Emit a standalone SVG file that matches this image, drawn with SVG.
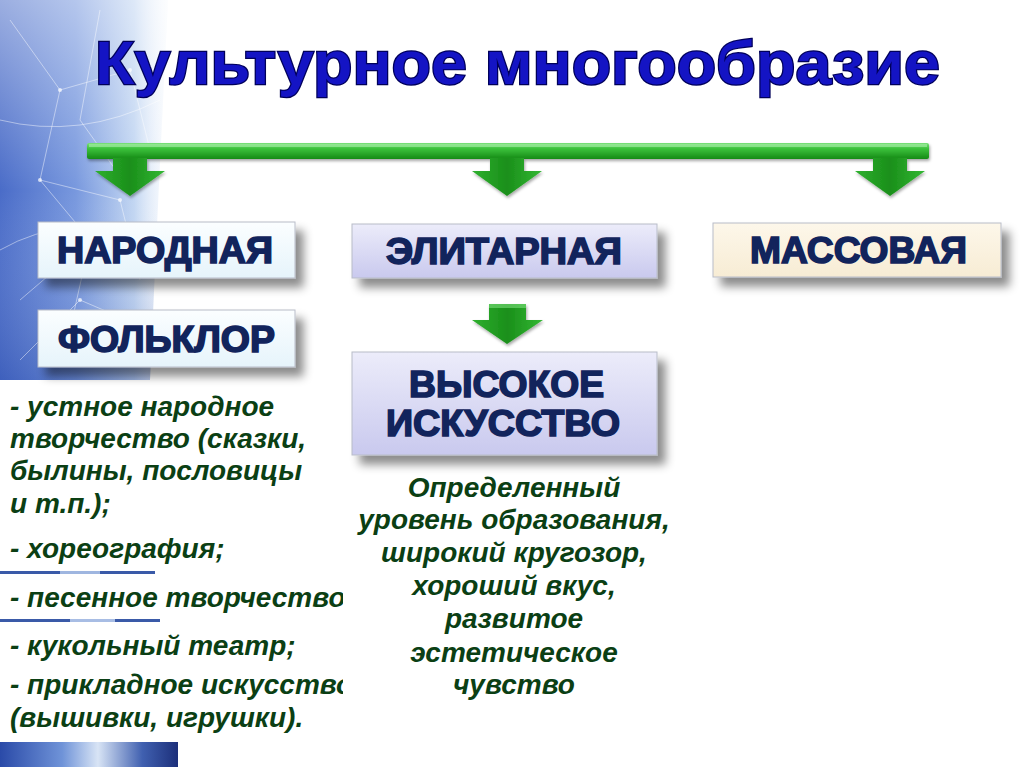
<svg xmlns="http://www.w3.org/2000/svg" width="1024" height="767" viewBox="0 0 1024 767">
<defs>
  <linearGradient id="panel" x1="0" y1="0" x2="1" y2="0">
    <stop offset="0" stop-color="#4a6cc8"/>
    <stop offset="0.45" stop-color="#7898de"/>
    <stop offset="0.8" stop-color="#c2d6f2"/>
    <stop offset="1" stop-color="#eef4fc" stop-opacity="0.3"/>
  </linearGradient>
  <linearGradient id="panelV" x1="0" y1="0" x2="0" y2="1">
    <stop offset="0" stop-color="#ffffff" stop-opacity="0.45"/>
    <stop offset="0.5" stop-color="#ffffff" stop-opacity="0"/>
    <stop offset="1" stop-color="#1a3a9a" stop-opacity="0.25"/>
  </linearGradient>
  <linearGradient id="bar" x1="0" y1="0" x2="0" y2="1">
    <stop offset="0" stop-color="#7be07b"/>
    <stop offset="0.35" stop-color="#3cc23c"/>
    <stop offset="1" stop-color="#158a15"/>
  </linearGradient>
  <linearGradient id="arr" x1="0" y1="0" x2="1" y2="0">
    <stop offset="0" stop-color="#2fb02f"/>
    <stop offset="0.5" stop-color="#1a8f1a"/>
    <stop offset="1" stop-color="#34b834"/>
  </linearGradient>
  <linearGradient id="light" x1="0" y1="0" x2="0" y2="1">
    <stop offset="0" stop-color="#fbfeff"/>
    <stop offset="1" stop-color="#e6f4fb"/>
  </linearGradient>
  <linearGradient id="lav" x1="0" y1="0" x2="0" y2="1">
    <stop offset="0" stop-color="#ececfa"/>
    <stop offset="1" stop-color="#c9c9ee"/>
  </linearGradient>
  <linearGradient id="cream" x1="0" y1="0" x2="0" y2="1">
    <stop offset="0" stop-color="#fdf7ea"/>
    <stop offset="1" stop-color="#f7ecd4"/>
  </linearGradient>
  <linearGradient id="bld" x1="0" y1="0" x2="1" y2="0">
    <stop offset="0" stop-color="#2a4aa8"/>
    <stop offset="0.35" stop-color="#6f93d8"/>
    <stop offset="0.55" stop-color="#d8e4f5"/>
    <stop offset="0.8" stop-color="#4060b0"/>
    <stop offset="1" stop-color="#1c2f7a"/>
  </linearGradient>
  <filter id="sh" x="-10%" y="-20%" width="130%" height="160%">
    <feDropShadow dx="8" dy="9" stdDeviation="5" flood-color="#000" flood-opacity="0.45"/>
  </filter>
  <filter id="ash" x="-20%" y="-20%" width="140%" height="160%">
    <feDropShadow dx="1" dy="2" stdDeviation="1.5" flood-color="#000" flood-opacity="0.35"/>
  </filter>
  <clipPath id="leftclip"><rect x="0" y="380" width="343" height="370"/></clipPath>
</defs>
<style>
  .title{font-family:"Liberation Sans",Arial,sans-serif;font-weight:bold;font-size:62px;fill:#1414c4;stroke:#00005a;stroke-width:2.4;paint-order:stroke}
  .lbl{font-family:"Liberation Sans",Arial,sans-serif;font-weight:bold;font-size:36px;fill:#12245c;stroke:#12245c;stroke-width:1.6}
  .box{stroke:#b8bcc8;stroke-width:1}
  .txt{font-family:"Liberation Sans",Arial,sans-serif;font-weight:bold;font-style:italic;font-size:28px;fill:#0b3f14}
  .net{stroke:#ffffff;stroke-opacity:0.45;stroke-width:1;fill:none}
</style>

<!-- background -->
<rect x="0" y="0" width="1024" height="767" fill="#ffffff"/>
<g id="background">
  <path d="M0 0 L168 0 Q158 200 150 380 L0 380 Z" fill="url(#panel)"/>
  <path d="M0 0 L168 0 Q158 200 150 380 L0 380 Z" fill="url(#panelV)"/>
  <path class="net" d="M10 20 L60 90 L40 180 L90 240 L70 330 M60 90 L130 70 L150 150 M40 180 L120 200 L140 280 M90 240 L20 300 M0 120 Q80 140 160 100 M0 250 Q70 210 150 240 M100 10 L80 120 L130 190 M20 360 L80 300 L150 330"/>
  <g fill="#ffffff" fill-opacity="0.7">
    <circle cx="60" cy="90" r="2"/><circle cx="40" cy="180" r="2"/><circle cx="90" cy="240" r="2"/>
    <circle cx="130" cy="70" r="2"/><circle cx="120" cy="200" r="2"/><circle cx="80" cy="300" r="2"/>
  </g>
  <rect x="0" y="742" width="178" height="25" fill="url(#bld)"/>
  <rect x="0" y="571" width="155" height="3" fill="#3a5aa8"/>
  <rect x="60" y="571" width="40" height="3" fill="#9fb6e0"/>
  <rect x="0" y="619" width="160" height="3" fill="#3a5aa8"/>
  <rect x="70" y="619" width="45" height="3" fill="#a8bde4"/>
</g>

<g id="title">
  <text class="title" x="95" y="84" textLength="845" lengthAdjust="spacingAndGlyphs">Культурное многообразие</text>
</g>

<g id="connectors">
  <g filter="url(#ash)">
    <rect x="87" y="143" width="842" height="16" rx="2" fill="url(#bar)"/>
    <rect x="89" y="144" width="838" height="3" fill="#a8f0a8" opacity="0.6"/>
    <path d="M113 158 L147 158 L147 171 L165 171 L130 196 L95 171 L113 171 Z" fill="url(#arr)"/>
    <path d="M490 158 L524 158 L524 171 L542 171 L507 196 L472 171 L490 171 Z" fill="url(#arr)"/>
    <path d="M873 158 L907 158 L907 171 L925 171 L890 196 L855 171 L873 171 Z" fill="url(#arr)"/>
    <path d="M489 304 L526 304 L526 320 L543 320 L507 344 L472 320 L489 320 Z" fill="url(#arr)"/>
    <path d="M489 304 L526 304 L526 308 L489 308 Z" fill="#7be07b" opacity="0.6"/>
  </g>
</g>

<g id="node-narodnaya">
  <rect class="box" x="38" y="222" width="257" height="56" fill="url(#light)" filter="url(#sh)"/>
  <text class="lbl" x="57" y="263" textLength="216" lengthAdjust="spacingAndGlyphs">НАРОДНАЯ</text>
</g>
<g id="node-elitarnaya">
  <rect class="box" x="352" y="224" width="305" height="54" fill="url(#lav)" filter="url(#sh)"/>
  <text class="lbl" x="386" y="264" textLength="236" lengthAdjust="spacingAndGlyphs">ЭЛИТАРНАЯ</text>
</g>
<g id="node-massovaya">
  <rect class="box" x="713" y="223" width="288" height="54" fill="url(#cream)" filter="url(#sh)"/>
  <text class="lbl" x="750" y="263" textLength="217" lengthAdjust="spacingAndGlyphs">МАССОВАЯ</text>
</g>
<g id="node-folklor">
  <rect class="box" x="38" y="310" width="257" height="57" fill="url(#light)" filter="url(#sh)"/>
  <text class="lbl" x="58" y="352" textLength="217" lengthAdjust="spacingAndGlyphs">ФОЛЬКЛОР</text>
</g>
<g id="node-vysokoe">
  <rect class="box" x="352" y="352" width="305" height="103" fill="url(#lav)" filter="url(#sh)"/>
  <text class="lbl" x="409" y="397" textLength="195" lengthAdjust="spacingAndGlyphs">ВЫСОКОЕ</text>
  <text class="lbl" x="386" y="436" textLength="234" lengthAdjust="spacingAndGlyphs">ИСКУССТВО</text>
</g>

<g id="folklor-text" clip-path="url(#leftclip)">
  <text class="txt" x="10" y="416">- устное народное</text>
  <text class="txt" x="10" y="448">творчество (сказки,</text>
  <text class="txt" x="10" y="480">былины, пословицы</text>
  <text class="txt" x="10" y="513">и т.п.);</text>
  <text class="txt" x="10" y="558">- хореография;</text>
  <text class="txt" x="10" y="607">- песенное творчество;</text>
  <text class="txt" x="10" y="655">- кукольный театр;</text>
  <text class="txt" x="10" y="694">- прикладное искусство</text>
  <text class="txt" x="10" y="727">(вышивки, игрушки).</text>
</g>

<g id="elite-text">
  <text class="txt" text-anchor="middle" x="514" y="497">Определенный</text>
  <text class="txt" text-anchor="middle" x="514" y="529">уровень образования,</text>
  <text class="txt" text-anchor="middle" x="514" y="562">широкий кругозор,</text>
  <text class="txt" text-anchor="middle" x="514" y="595">хороший вкус,</text>
  <text class="txt" text-anchor="middle" x="514" y="628">развитое</text>
  <text class="txt" text-anchor="middle" x="514" y="662">эстетическое</text>
  <text class="txt" text-anchor="middle" x="514" y="694">чувство</text>
</g>
</svg>
